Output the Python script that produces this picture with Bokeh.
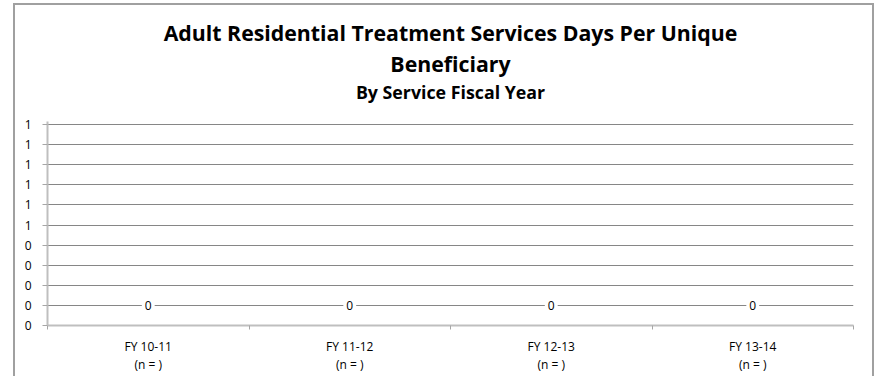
from bokeh.plotting import figure
from bokeh.models import (FixedTicker, CustomJSTickFormatter, Title, InlineStyleSheet,
                          ColumnDataSource, Range1d)
from bokeh.core.properties import value
from bokeh.embed import file_html
from bokeh.resources import INLINE

categories = ["FY 10-11", "FY 11-12", "FY 12-13", "FY 13-14"]
n_labels = ["(n = )", "(n = )", "(n = )", "(n = )"]
values = [0, 0, 0, 0]
y_ticks = [0.0, 0.1, 0.2, 0.3, 0.4, 0.5, 0.6, 0.7, 0.8, 0.9, 1.0]
title_line1 = "Adult Residential Treatment Services Days Per Unique"
title_line2 = "Beneficiary"
subtitle = "By Service Fiscal Year"

FONT = "Open Sans"
x_pos = [i + 0.5 for i in range(len(categories))]
boundaries = list(range(len(categories) + 1))
tick_labels = [c + "\n" + n for c, n in zip(categories, n_labels)]

p = figure(frame_width=806, frame_height=204, x_range=Range1d(0, len(categories)),
           y_range=Range1d(0, 1 + 3 / 201), output_backend="svg", toolbar_location=None,
           min_border_left=47, min_border_right=21, min_border_bottom=51,
           min_border_top=121)
p.outline_line_color = None
p.background_fill_color = "white"
p.border_fill_color = "white"

# titles: p.title is outermost; added titles stack from the plot upward
p.title.text = title_line1
p.title.align = "center"
p.title.text_font = FONT
p.title.text_font_size = "21.3px"
p.title.text_font_style = "bold"
p.title.text_color = "black"
p.title.standoff = 0
p.add_layout(Title(text=" ", align="center", text_font=FONT, text_font_size="1px",
                   standoff=15), "above")
p.add_layout(Title(text=subtitle, align="center", text_font=FONT, text_font_size="17.8px",
                   text_font_style="bold", text_color="black", standoff=0), "above")
p.add_layout(Title(text=title_line2, align="center", text_font=FONT, text_font_size="21.3px",
                   text_font_style="bold", text_color="black", standoff=0), "above")

# y axis
p.yaxis.ticker = FixedTicker(ticks=y_ticks)
p.yaxis.formatter = CustomJSTickFormatter(code="return Math.round(tick).toString();")
p.yaxis.axis_line_color = "#bfbfbf"
p.yaxis.axis_line_width = 2
p.yaxis.major_tick_line_color = "#a6a6a6"
p.yaxis.major_tick_in = 0
p.yaxis.major_tick_out = 5
p.yaxis.minor_tick_line_color = None
p.yaxis.major_label_text_font = FONT
p.yaxis.major_label_text_font_size = "12px"
p.yaxis.major_label_text_color = "black"
p.yaxis.major_label_standoff = 11

# x axis
p.xaxis.ticker = FixedTicker(ticks=x_pos, minor_ticks=boundaries)
p.xaxis.formatter = CustomJSTickFormatter(args=dict(labels=tick_labels),
                                          code="return labels[Math.floor(tick)];")
p.xaxis.axis_line_color = "#bfbfbf"
p.xaxis.axis_line_width = 2
p.xaxis.major_tick_line_color = None
p.xaxis.minor_tick_line_color = "#a6a6a6"
p.xaxis.minor_tick_in = 0
p.xaxis.minor_tick_out = 4
p.xaxis.major_label_text_font = FONT
p.xaxis.major_label_text_font_size = "12px"
p.xaxis.major_label_text_color = "black"
p.xaxis.major_label_text_line_height = 1.1
p.xaxis.major_label_standoff = 6

p.xgrid.visible = False
p.ygrid.ticker = FixedTicker(ticks=y_ticks)
p.ygrid.grid_line_color = "#868686"
p.ygrid.grid_line_width = 1

src = ColumnDataSource(dict(x=x_pos, y=values, t=[str(v) for v in values]))
p.text(x="x", y="y", text="t", source=src, text_align="center", text_baseline="middle",
       y_offset=-20, text_font=value(FONT), text_font_size="12px", text_color="black",
       background_fill_color="white", padding=3)

# worksheet-style chart border
p.stylesheets = [InlineStyleSheet(css="""
:host::after {
  content: "";
  position: absolute;
  left: 13px; top: 3px; width: 857px; bottom: 0px;
  border-left: 2px solid #a0a0a0;
  border-right: 2px solid #a0a0a0;
  border-top: 2px solid #a0a0a0;
  pointer-events: none;
  z-index: 100;
}
""")]

open("out.html", "w").write(file_html(p, INLINE))
